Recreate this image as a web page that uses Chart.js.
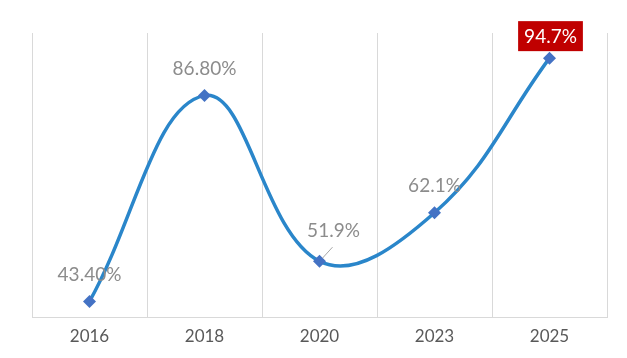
<!DOCTYPE html>
<html><head><meta charset="utf-8">
<script src="https://cdn.jsdelivr.net/npm/chart.js@4/dist/chart.umd.min.js"></script>
<style>html,body{margin:0;padding:0;background:#fff;}#wrap{width:627px;height:358px;}</style>
</head><body><div id="wrap"><canvas id="c" width="627" height="358"></canvas></div>
<script>
const categories = ["2016", "2018", "2020", "2023", "2025"];
const values = [43.4, 86.8, 51.9, 62.1, 94.7];
const valueLabels = ["43.40%", "86.80%", "51.9%", "62.1%", "94.7%"];

const labelOffsets = [[0, -27], [0, -27], [14, -30], [0, -27], [1, -22]];

const labelPlugin = {
  id: 'vlabels',
  afterDatasetsDraw(chart) {
    const ctx = chart.ctx;
    const meta = chart.getDatasetMeta(0);
    ctx.save();
    ctx.font = '19px Lato, "Noto Sans", sans-serif';
    ctx.textAlign = 'center';
    ctx.textBaseline = 'middle';
    meta.data.forEach((pt, i) => {
      const x = pt.x + labelOffsets[i][0];
      const y = pt.y + labelOffsets[i][1];
      if (i === values.length - 1) {
        const w = ctx.measureText(valueLabels[i]).width + 12;
        ctx.fillStyle = '#C00000';
        ctx.fillRect(x - w / 2, y - 15, w, 30);
        ctx.fillStyle = '#ffffff';
        ctx.fillText(valueLabels[i], x, y + 1);
      } else {
        ctx.fillStyle = '#8c8c8c';
        ctx.fillText(valueLabels[i], x, y);
      }
      if (i === 2) {
        ctx.strokeStyle = '#a6a6a6';
        ctx.lineWidth = 1;
        ctx.beginPath();
        ctx.moveTo(pt.x + 3, pt.y - 3);
        ctx.lineTo(pt.x + 13, pt.y - 14);
        ctx.stroke();
      }
    });
    ctx.restore();
  }
};

new Chart(document.getElementById('c'), {
  type: 'line',
  data: {
    labels: categories,
    datasets: [{
      data: values,
      borderColor: '#2A86CA',
      borderWidth: 3.5,
      tension: 0.4,
      pointStyle: 'rectRot',
      pointRadius: 6.5,
      pointBackgroundColor: '#4472C4',
      pointBorderColor: '#4472C4',
      pointBorderWidth: 0,
      clip: false
    }]
  },
  options: {
    responsive: false,
    animation: false,
    devicePixelRatio: 1,
    layout: { padding: { left: 32, right: 20, top: 33, bottom: 2 } },
    plugins: { legend: { display: false }, tooltip: { enabled: false } },
    elements: { line: { capBezierPoints: false } },
    scales: {
      x: {
        offset: true,
        grid: { offset: true, color: '#d9d9d9', lineWidth: 1, drawTicks: false },
        border: { color: '#d9d9d9' },
        ticks: { color: '#595959', font: { size: 17, family: 'Lato, "Noto Sans", sans-serif' }, padding: 9 }
      },
      y: {
        display: false,
        min: 40,
        max: 100
      }
    }
  },
  plugins: [labelPlugin]
});
</script>
</body></html>
